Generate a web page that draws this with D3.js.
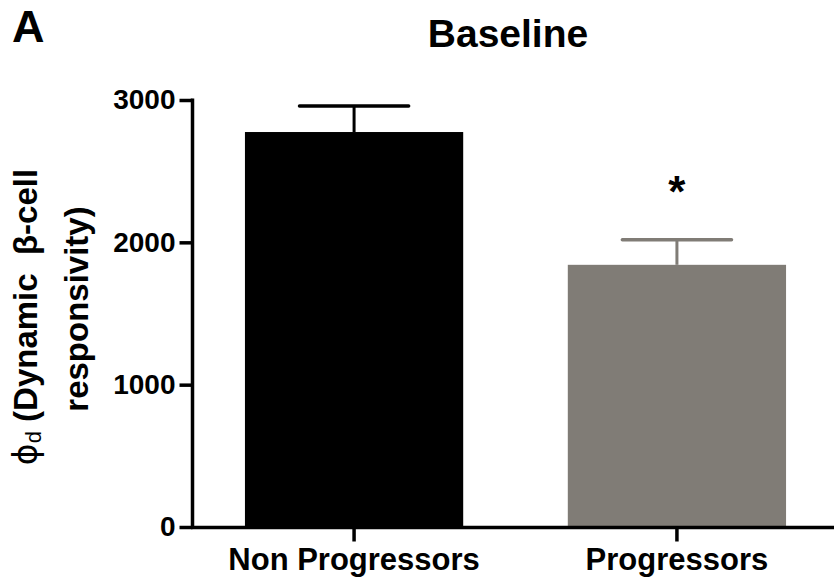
<!DOCTYPE html>
<html>
<head>
<meta charset="utf-8">
<script src="https://d3js.org/d3.v7.min.js"></script>
<style>
  html, body { margin: 0; padding: 0; background: #fff; }
  svg { display: block; }
  text { font-family: "Liberation Sans", Arial, Helvetica, sans-serif; }
</style>
</head>
<body>
<script>
const categories = ["Non Progressors", "Progressors"];
const means = [2775, 1842];
const sems = [182, 176];
const barColors = ["#000000", "#807c76"];
const yTicks = [0, 1000, 2000, 3000];
const significance = ["", "*"];

const W = 834, H = 578;
const svg = d3.select("body").append("svg").attr("width", W).attr("height", H);

const y = d3.scaleLinear().domain([0, 3000]).range([527, 100]);
const x = d3.scaleBand().domain(categories).range([192, 839])
  .paddingInner(0.324).paddingOuter(0.164);

// bars
svg.selectAll("rect.bar").data(categories).join("rect")
  .attr("class", "bar")
  .attr("x", d => x(d))
  .attr("width", x.bandwidth())
  .attr("y", (d, i) => y(means[i]))
  .attr("height", (d, i) => y(0) - y(means[i]))
  .attr("fill", (d, i) => barColors[i]);

// error bars (upper only)
const eb = svg.selectAll("g.err").data(categories).join("g").attr("class", "err");
eb.append("line")
  .attr("x1", d => x(d) + x.bandwidth() / 2)
  .attr("x2", d => x(d) + x.bandwidth() / 2)
  .attr("y1", (d, i) => y(means[i]))
  .attr("y2", (d, i) => y(means[i] + sems[i]))
  .attr("stroke", (d, i) => barColors[i]).attr("stroke-width", 3);
eb.append("line")
  .attr("x1", d => x(d) + x.bandwidth() / 4)
  .attr("x2", d => x(d) + 3 * x.bandwidth() / 4)
  .attr("y1", (d, i) => y(means[i] + sems[i]))
  .attr("y2", (d, i) => y(means[i] + sems[i]))
  .attr("stroke", (d, i) => barColors[i]).attr("stroke-width", 3.5)
  .attr("stroke-linecap", "round");

// significance star
svg.selectAll("text.sig").data(categories).join("text")
  .attr("class", "sig")
  .attr("x", d => x(d) + x.bandwidth() / 2)
  .attr("y", (d, i) => y(means[i] + sems[i]) - 33)
  .attr("text-anchor", "middle")
  .attr("font-size", 44).attr("font-weight", "bold")
  .text((d, i) => significance[i]);

// y axis
const yAxis = d3.axisLeft(y).tickValues(yTicks).tickSize(13).tickPadding(4).tickFormat(d3.format("d"));
const gy = svg.append("g").attr("transform", "translate(192.5,0)").call(yAxis);
gy.select(".domain").attr("stroke", "#000").attr("stroke-width", 3.5).attr("d", `M0,${y(3000) - 1.5}V${y(0) + 1.5}`);
gy.selectAll(".tick line").attr("stroke", "#000").attr("stroke-width", 3.5);
gy.selectAll(".tick text").attr("font-size", 28).attr("font-weight", "bold")
  .attr("fill", "#000").style("font-family", '"Liberation Sans", Arial, sans-serif');

// x axis
const xAxis = d3.axisBottom(x).tickSize(14).tickPadding(6);
const gx = svg.append("g").attr("transform", "translate(0,527.5)").call(xAxis);
gx.select(".domain").attr("stroke", "#000").attr("stroke-width", 3.5).attr("d", `M191,0H834`);
gx.selectAll(".tick line").attr("stroke", "#000").attr("stroke-width", 3.5);
gx.selectAll(".tick text").attr("font-size", 31).attr("font-weight", "bold")
  .attr("fill", "#000").style("font-family", '"Liberation Sans", Arial, sans-serif');

// title
svg.append("text").attr("x", 508).attr("y", 47).attr("text-anchor", "middle")
  .attr("font-size", 39).attr("font-weight", "bold").text("Baseline");

// panel letter
svg.append("text").attr("x", 12).attr("y", 42)
  .attr("font-size", 45).attr("font-weight", "bold").text("A");

// y axis label (two lines)
const yl1 = svg.append("text")
  .attr("transform", "translate(37,317) rotate(-90)")
  .attr("text-anchor", "middle")
  .attr("font-size", 33).attr("font-weight", "bold");
yl1.append("tspan").attr("font-weight", "normal").style("font-family", '"DejaVu Sans", sans-serif').text("ϕ");
yl1.append("tspan").attr("font-size", 22).attr("font-weight", "normal").attr("dy", 4).text("d");
yl1.append("tspan").attr("dy", -4).text("\u00a0(Dynamic\u00a0\u00a0β-cell");

svg.append("text")
  .attr("transform", "translate(88,309) rotate(-90)")
  .attr("text-anchor", "middle")
  .attr("font-size", 33).attr("font-weight", "bold")
  .text("responsivity)");
</script>
</body>
</html>
